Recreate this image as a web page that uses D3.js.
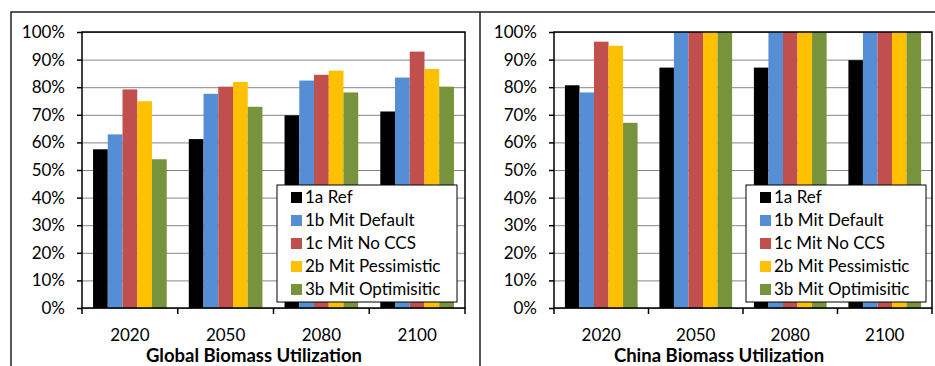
<!DOCTYPE html>
<html>
<head>
<meta charset="utf-8">
<script src="https://cdn.jsdelivr.net/npm/d3@7"></script>
<style>
  body { margin: 0; background: #fff; }
  text { font-family: Lato, "Open Sans", sans-serif; fill: #000; }
</style>
</head>
<body>
<script>
'use strict';

// categories and series
const years = ["2020", "2050", "2080", "2100"]
const scenarios = ["1a Ref", "1b Mit Default", "1c Mit No CCS", "2b Mit Pessimistic", "3b Mit Optimisitic"]
const scenarioColors = ["#000000", "#558ED5", "#C0504D", "#FFC000", "#77933C"]
const yTicks = [0, 0.1, 0.2, 0.3, 0.4, 0.5, 0.6, 0.7, 0.8, 0.9, 1.0]

// global biomass utilization (share), one array per scenario, by year
const globalRef = [0.575, 0.612, 0.698, 0.712]
const globalDefault = [0.629, 0.776, 0.824, 0.835]
const globalNoCCS = [0.792, 0.802, 0.845, 0.929]
const globalPessimistic = [0.749, 0.819, 0.860, 0.866]
const globalOptimistic = [0.539, 0.729, 0.781, 0.802]

// china biomass utilization (share)
const chinaRef = [0.807, 0.871, 0.871, 0.898]
const chinaDefault = [0.781, 1.0, 1.0, 1.0]
const chinaNoCCS = [0.965, 1.0, 1.0, 1.0]
const chinaPessimistic = [0.950, 1.0, 1.0, 1.0]
const chinaOptimistic = [0.671, 1.0, 1.0, 1.0]

const panels = [
  {
    title: "Global Biomass Utilization",
    series: [globalRef, globalDefault, globalNoCCS, globalPessimistic, globalOptimistic],
    plot: {left: 82, right: 465}, legendX: 277, titleX: 254
  },
  {
    title: "China Biomass Utilization",
    series: [chinaRef, chinaDefault, chinaNoCCS, chinaPessimistic, chinaOptimistic],
    plot: {left: 554, right: 932}, legendX: 746, titleX: 719
  }
]

const m = {width: 935, height: 366, top: 32, bottom: 308}
const fontSize = '17px'

const svg = d3.select('body')
  .append('svg')
  .attr('width', m.width)
  .attr('height', m.height)

// outer frame lines
svg.append('path')
  .attr('d', 'M11,366 V12 H935 M480,12 V366')
  .attr('fill', 'none')
  .attr('stroke', '#222')
  .attr('stroke-width', 1.5)

panels.forEach(drawPanel)

function drawPanel(p) {
  const g = svg.append('g')

  let x = d3.scaleBand()
    .domain(years)
    .range([p.plot.left, p.plot.right])

  // bars inside a category, gap width like excel (150%)
  let xs = d3.scaleBand()
    .domain(scenarios)
    .range([0, x.bandwidth()])
    .paddingInner(0)
    .paddingOuter(0.75)

  let y = d3.scaleLinear()
    .domain([0, 1])
    .range([m.bottom, m.top])

  // gridlines
  g.append('g')
    .attr('transform', 'translate(' + p.plot.left + ',0)')
    .call(d3.axisLeft(y).tickValues(yTicks).tickSize(-(p.plot.right - p.plot.left)).tickFormat(''))
    .call(s => s.select('.domain').remove())
    .selectAll('line')
      .attr('stroke', '#868686')
      .attr('stroke-width', 1)

  // bars
  scenarios.forEach((sc, i) => {
    g.append('g')
      .selectAll('rect')
      .data(p.series[i])
      .enter()
      .append('rect')
        .attr('x', (d, j) => x(years[j]) + xs(sc))
        .attr('width', xs.bandwidth())
        .attr('y', d => y(d))
        .attr('height', d => y(0) - y(d))
        .attr('fill', scenarioColors[i])
  })

  // plot border
  g.append('rect')
    .attr('x', p.plot.left)
    .attr('y', m.top)
    .attr('width', p.plot.right - p.plot.left)
    .attr('height', m.bottom - m.top)
    .attr('fill', 'none')
    .attr('stroke', '#000')
    .attr('stroke-width', 1.5)

  // y axis with labels
  let yAxis = g.append('g')
    .attr('transform', 'translate(' + p.plot.left + ',0)')
    .call(d3.axisLeft(y).tickValues(yTicks).tickFormat(d3.format('.0%')).tickSize(5).tickPadding(12))
  yAxis.select('.domain').remove()
  yAxis.selectAll('line').attr('stroke', '#000').attr('stroke-width', 1.5)
  yAxis.selectAll('text')
    .style('font-family', 'Lato, sans-serif')
    .style('font-size', fontSize)
    .attr('fill', '#000')

  // x ticks between categories
  let edges = years.map(yr => x(yr)).concat([x.range()[1]])
  g.append('g')
    .selectAll('line')
    .data(edges)
    .enter()
    .append('line')
      .attr('x1', d => d)
      .attr('x2', d => d)
      .attr('y1', m.bottom)
      .attr('y2', m.bottom + 6)
      .attr('stroke', '#000')
      .attr('stroke-width', 1.5)

  g.append('g')
    .selectAll('text')
    .data(years)
    .enter()
    .append('text')
      .attr('x', d => x(d) + x.bandwidth() / 2)
      .attr('y', 341)
      .attr('text-anchor', 'middle')
      .style('font-size', fontSize)
      .text(d => d)

  // panel title
  g.append('text')
    .attr('x', p.titleX)
    .attr('y', 362)
    .attr('text-anchor', 'middle')
    .style('font-size', '18.5px')
    .style('font-weight', 'bold')
    .text(p.title)

  // legend
  let lg = g.append('g').attr('transform', 'translate(' + p.legendX + ',185)')
  lg.append('rect')
    .attr('width', 180)
    .attr('height', 117)
    .attr('fill', '#fff')
    .attr('stroke', '#000')
    .attr('stroke-width', 1)

  scenarios.forEach((sc, i) => {
    lg.append('rect')
      .attr('x', 14)
      .attr('y', 7 + i * 23)
      .attr('width', 11)
      .attr('height', 11)
      .attr('fill', scenarioColors[i])
    lg.append('text')
      .attr('x', 28)
      .attr('y', 18 + i * 23)
      .style('font-size', fontSize)
      .text(sc)
  })
}
</script>
</body>
</html>
